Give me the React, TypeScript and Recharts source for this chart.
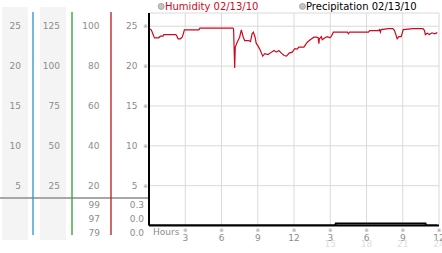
import React from 'react';
import { LineChart, Line, XAxis, YAxis, CartesianGrid } from 'recharts';

// ---- data ----
const humHours = [0, 0.06, 0.17, 0.27, 0.39, 0.47, 0.8, 0.94, 1.16, 1.22, 2.19, 2.27, 2.41, 2.6, 2.74, 2.82, 2.93, 4.13, 4.21, 6.95, 7.0, 7.09, 7.14, 7.3, 7.5, 7.64, 7.8, 7.92, 8.25, 8.4, 8.53, 8.64, 8.78, 8.87, 9.03, 9.22, 9.41, 9.58, 9.86, 10.13, 10.35, 10.55, 10.74, 10.96, 11.18, 11.38, 11.6, 11.85, 12.07, 12.26, 12.4, 12.82, 12.96, 13.1, 13.37, 13.65, 13.85, 14.0, 14.06, 14.1, 14.26, 14.34, 14.56, 14.76, 14.98, 15.12, 15.26, 16.42, 16.5, 16.6, 18.16, 18.27, 19.0, 19.07, 19.15, 19.2, 19.82, 20.18, 20.32, 20.54, 20.68, 20.87, 21.04, 21.84, 22.67, 22.8, 22.87, 23.03, 23.2, 23.42, 23.64, 23.86];
const humValues = [97.8, 98.6, 98.3, 97, 95, 94.2, 94.2, 95, 95, 95.8, 95.8, 95.5, 93.7, 93.7, 94.5, 95.8, 98.2, 98.2, 99, 99, 98.5, 79, 89.5, 92, 94.5, 98.2, 94.5, 92.8, 92.8, 92.3, 96.2, 97, 94.5, 91.5, 90, 87.8, 85, 86.2, 85.8, 87, 87.8, 87, 87.8, 86.5, 85.3, 85, 86.5, 87, 88.7, 88.5, 89.5, 89.5, 90.8, 92, 93.3, 94.5, 94.5, 94.2, 91.2, 93.7, 94.8, 93.2, 94.2, 94.8, 94.2, 95.3, 97, 97, 96.2, 97, 97, 97.8, 97.8, 98.3, 97, 98.3, 98.8, 98.8, 97.8, 93.7, 94.8, 94.8, 98.3, 98.8, 98.8, 97.8, 95.8, 96.5, 95.8, 96.7, 96.2, 96.8];

const precipHours = [0, 15.42, 15.46, 22.88, 22.92, 23.86];
const precipValues = [0, 0, 0.3, 0.3, 0, 0];

const leftTicks = [25, 20, 15, 10, 5];
const col1Labels = ['25', '20', '15', '10', '5'];
const col2Labels = ['125', '100', '75', '50', '25'];
const col3Labels = ['100', '80', '60', '40', '20'];
const col4Labels = ['25', '20', '15', '10', '5'];

const humStats = ['99', '97', '79'];
const precipStats = ['0.3', '0.0', '0.0'];

const hourTicks = [3, 6, 9, 12, 15, 18, 21, 24];
const hourLabels = ['3', '6', '9', '12', '3', '6', '9', '12'];
const hourLabels24 = ['', '', '', '', '15', '18', '21', '24'];

const humSeriesName = 'Humidity 02/13/10';
const precipSeriesName = 'Precipitation 02/13/10';

// ---- built tables ----
const humData = humHours.map((t, i) => ({ t, h: humValues[i] }));
const precipData = precipHours.map((t, i) => ({ t, p: precipValues[i] }));

const FONT = 'DejaVu Sans';
const GRAY = '#8c8c8c';

const LeftTick = (props: any) => {
  const { y, payload } = props;
  const i = leftTicks.indexOf(payload.value);
  if (i < 0) return null;
  const ty = y + 3.2;
  return (
    <g fontFamily={FONT} fontSize={9} fill={GRAY}>
      <text x={21} y={ty} textAnchor="end">{col1Labels[i]}</text>
      <text x={60} y={ty} textAnchor="end">{col2Labels[i]}</text>
      <text x={99.5} y={ty} textAnchor="end">{col3Labels[i]}</text>
      <text x={137.5} y={ty} textAnchor="end">{col4Labels[i]}</text>
      <text x={145.5} y={y + 2} textAnchor="middle" fontSize={5.5} fill="#999">※</text>
    </g>
  );
};

const BottomTick = (props: any) => {
  const { x, y, payload } = props;
  const i = hourTicks.indexOf(payload.value);
  if (i < 0) return null;
  return (
    <g fontFamily={FONT} textAnchor="middle">
      <text x={x} y={y + 6.5} fontSize={5.5} fill="#999">※</text>
      <text x={x} y={y + 15.2} fontSize={9} fill={GRAY}>{hourLabels[i]}</text>
      {hourLabels24[i] ? (
        <text x={x} y={y + 21.8} fontSize={9} fill="#dedede">{hourLabels24[i]}</text>
      ) : null}
    </g>
  );
};

export default function App() {
  return (
    <div style={{ position: 'absolute', left: 0, top: 0, width: 442, height: 253, background: '#fff', overflow: 'hidden' }}>
      <svg width={442} height={253} style={{ position: 'absolute', left: 0, top: 0 }}>
        <rect x={2} y={7} width={26} height={233} fill="#f4f4f4" />
        <rect x={40} y={7} width={26} height={233} fill="#f4f4f4" />
        <line x1={0} x2={149} y1={198} y2={198} stroke="#a8a8a8" strokeWidth={2} />
        <line x1={33} x2={33} y1={12} y2={235} stroke="#3a9ccc" strokeWidth={1.4} />
        <line x1={72} x2={72} y1={12} y2={235} stroke="#3aa83a" strokeWidth={1.4} />
        <line x1={111} x2={111} y1={12} y2={235} stroke="#b82a2a" strokeWidth={1.4} />
        <g fontFamily={FONT} fontSize={9} fill={GRAY} textAnchor="end">
          {humStats.map((s, i) => (
            <text key={'h' + i} x={100} y={207.5 + i * 14}>{s}</text>
          ))}
          {precipStats.map((s, i) => (
            <text key={'p' + i} x={144} y={207.5 + i * 14}>{s}</text>
          ))}
        </g>
        <text x={153} y={235.3} fontFamily={FONT} fontSize={9} fill={GRAY}>Hours</text>
        <circle cx={161.2} cy={6.4} r={3} fill="#c4c4c4" stroke="#9a9a9a" strokeWidth={0.8} />
        <text x={165} y={10} fontFamily={FONT} fontSize={10} fill="#cc0a1e">{humSeriesName}</text>
        <circle cx={302.5} cy={6.4} r={3} fill="#c4c4c4" stroke="#9a9a9a" strokeWidth={0.8} />
        <text x={306} y={10} fontFamily={FONT} fontSize={10} fill="#000">{precipSeriesName}</text>
      </svg>
      <div style={{ position: 'absolute', left: 0, top: 0 }}>
        <LineChart width={442} height={253} margin={{ top: 13, right: 3, bottom: 0, left: 0 }}>
          <CartesianGrid yAxisId="left" stroke="#dadada" strokeWidth={1} />
          <XAxis
            dataKey="t"
            type="number"
            domain={[0, 24]}
            ticks={hourTicks}
            allowDataOverflow
            axisLine={{ stroke: '#000', strokeWidth: 2 }}
            tickLine={false}
            tickSize={0}
            tickMargin={0}
            tick={(p: any) => <BottomTick {...p} />}
            height={27.5}
            interval={0}
          />
          <YAxis
            yAxisId="left"
            type="number"
            domain={[0, 26.66]}
            ticks={leftTicks}
            allowDataOverflow
            width={149}
            axisLine={{ stroke: '#000', strokeWidth: 2 }}
            tickLine={false}
            tick={(p: any) => <LeftTick {...p} />}
            interval={0}
          />
          <YAxis yAxisId="hum" orientation="right" width={0} type="number" domain={[0, 106.64]} allowDataOverflow hide />
          <YAxis yAxisId="pr" orientation="right" width={0} type="number" domain={[0, 30]} allowDataOverflow hide />
          <Line
            yAxisId="pr"
            data={precipData}
            dataKey="p"
            type="linear"
            stroke="#000"
            strokeWidth={2}
            dot={false}
            isAnimationActive={false}
          />
          <Line
            yAxisId="hum"
            data={humData}
            dataKey="h"
            type="linear"
            stroke="#cc0a1e"
            strokeWidth={1.2}
            dot={false}
            isAnimationActive={false}
          />
        </LineChart>
      </div>
    </div>
  );
}
